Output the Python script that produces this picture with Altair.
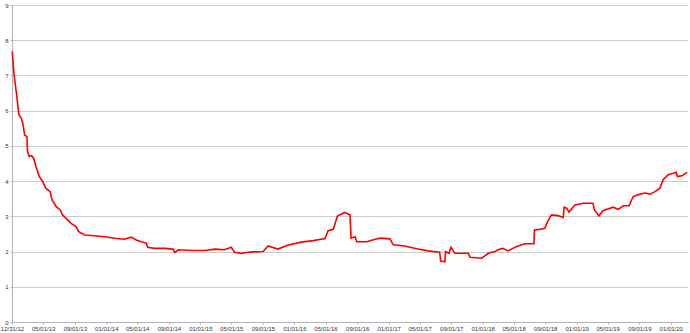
import altair as alt
import pandas as pd

dates = [
    "2013-01-01", "2013-01-05", "2013-01-08", "2013-01-13", "2013-01-18", "2013-01-23",
    "2013-01-27", "2013-02-05", "2013-02-12", "2013-02-18", "2013-02-27", "2013-03-01",
    "2013-03-08", "2013-03-17", "2013-03-25", "2013-04-03", "2013-04-16", "2013-04-29",
    "2013-05-11", "2013-05-28", "2013-06-04", "2013-06-20", "2013-07-06", "2013-07-15",
    "2013-08-04", "2013-08-17", "2013-09-06", "2013-09-15", "2013-10-08", "2013-11-16",
    "2013-12-25",
    "2014-02-03", "2014-03-11", "2014-04-08", "2014-04-27", "2014-05-16", "2014-06-05",
    "2014-06-11", "2014-07-07", "2014-08-16", "2014-09-17", "2014-09-24", "2014-10-07",
    "2014-11-28",
    "2015-01-19", "2015-02-27", "2015-04-05", "2015-05-01", "2015-05-14", "2015-06-09",
    "2015-07-05", "2015-07-24", "2015-09-02", "2015-09-21", "2015-10-30", "2015-12-02",
    "2016-01-23", "2016-03-14", "2016-04-29", "2016-05-11", "2016-05-31", "2016-06-16",
    "2016-07-15", "2016-08-04", "2016-08-08", "2016-08-24", "2016-08-30", "2016-10-08",
    "2016-11-10", "2016-11-30",
    "2017-01-06", "2017-01-19", "2017-03-04", "2017-04-25", "2017-06-03", "2017-07-18",
    "2017-07-22", "2017-08-07", "2017-08-10", "2017-08-23", "2017-08-31", "2017-09-15",
    "2017-11-06", "2017-11-13", "2017-12-28",
    "2018-01-23", "2018-02-18", "2018-03-01", "2018-03-20", "2018-04-09", "2018-05-11",
    "2018-06-13", "2018-07-19", "2018-07-21", "2018-08-10", "2018-08-30", "2018-09-10",
    "2018-09-25", "2018-10-21", "2018-11-10", "2018-11-13", "2018-11-23", "2018-12-02",
    "2018-12-25",
    "2019-01-27", "2019-03-05", "2019-03-11", "2019-03-28", "2019-04-13", "2019-05-22",
    "2019-06-11", "2019-07-01", "2019-07-23", "2019-08-08", "2019-09-04", "2019-09-23",
    "2019-10-12", "2019-11-01", "2019-11-20", "2019-12-03", "2019-12-22",
    "2020-01-11", "2020-01-22", "2020-01-27", "2020-02-13", "2020-03-05",
]

values = [
    7.68, 7.30, 7.02, 6.73, 6.45, 6.12,
    5.88, 5.79, 5.60, 5.31, 5.26, 4.86,
    4.70, 4.72, 4.65, 4.41, 4.13, 3.99,
    3.80, 3.70, 3.47, 3.28, 3.18, 3.04,
    2.90, 2.80, 2.71, 2.57, 2.47, 2.45,
    2.42,
    2.38, 2.35, 2.41, 2.33, 2.28, 2.24,
    2.12, 2.09, 2.09, 2.07, 1.97, 2.05,
    2.03,
    2.03, 2.07, 2.05, 2.12, 1.98, 1.95,
    1.98, 1.99, 2.00, 2.16, 2.07, 2.17,
    2.26, 2.31, 2.37, 2.59, 2.63, 3.01,
    3.11, 3.04, 2.38, 2.42, 2.28, 2.28,
    2.35, 2.38,
    2.36, 2.19, 2.16, 2.07, 2.02, 1.98,
    1.73, 1.71, 2.00, 1.95, 2.12, 1.95,
    1.95, 1.84, 1.81,
    1.95, 2.00, 2.05, 2.09, 2.02, 2.14,
    2.22, 2.22, 2.61, 2.63, 2.66, 2.85,
    3.04, 3.02, 2.97, 3.26, 3.23, 3.12,
    3.32,
    3.37, 3.37, 3.18, 3.01, 3.16, 3.26,
    3.20, 3.30, 3.30, 3.56, 3.63, 3.66,
    3.63, 3.70, 3.80, 4.05, 4.18,
    4.22, 4.25, 4.13, 4.15, 4.25,
]

x_ticks = [
    "2012-12-31", "2013-05-01", "2013-09-01",
    "2014-01-01", "2014-05-01", "2014-09-01",
    "2015-01-01", "2015-05-01", "2015-09-01",
    "2016-01-01", "2016-05-01", "2016-09-01",
    "2017-01-01", "2017-05-01", "2017-09-01",
    "2018-01-01", "2018-05-01", "2018-09-01",
    "2019-01-01", "2019-05-01", "2019-09-01",
    "2020-01-01",
]
x_domain = ["2012-12-31", "2020-03-08"]
y_ticks = [0, 1, 2, 3, 4, 5, 6, 7, 8, 9]

df = pd.DataFrame({"date": dates, "value": values})


def dt(s):
    y, m, d = map(int, s.split("-"))
    return alt.DateTime(year=y, month=m, date=d, utc=True)


font = "Liberation Sans"

chart = (
    alt.Chart(df)
    .mark_line(color="#ff0000", strokeWidth=1.6)
    .encode(
        x=alt.X(
            "date:T",
            scale=alt.Scale(type="utc", domain=[dt(s) for s in x_domain]),
            axis=alt.Axis(
                values=[dt(s) for s in x_ticks],
                labelExpr="utcFormat(datum.value, '%m/%d/%y')",
                title=None,
                grid=False,
                labelFont=font,
                labelFontSize=6,
                labelColor="#333333",
                tickSize=2,
                labelPadding=1,
                labelOverlap=False,
                labelFlush=False,
                domainColor="#b3b3b3",
                tickColor="#b3b3b3",
            ),
        ),
        y=alt.Y(
            "value:Q",
            scale=alt.Scale(domain=[0, 9], nice=False),
            axis=alt.Axis(
                values=y_ticks,
                title=None,
                grid=True,
                gridColor="#cccccc",
                gridWidth=1,
                labelFont=font,
                labelFontSize=6,
                labelColor="#333333",
                tickSize=2,
                labelPadding=2,
                domainColor="#b3b3b3",
                tickColor="#b3b3b3",
            ),
        ),
    )
    .properties(
        width=676,
        height=317,
        autosize="none",
        padding={"left": 12, "top": 5, "right": 2, "bottom": 11},
    )
    .configure_view(stroke=None)
)

chart.save("out.html", embed_options={"renderer": "svg", "actions": False})
